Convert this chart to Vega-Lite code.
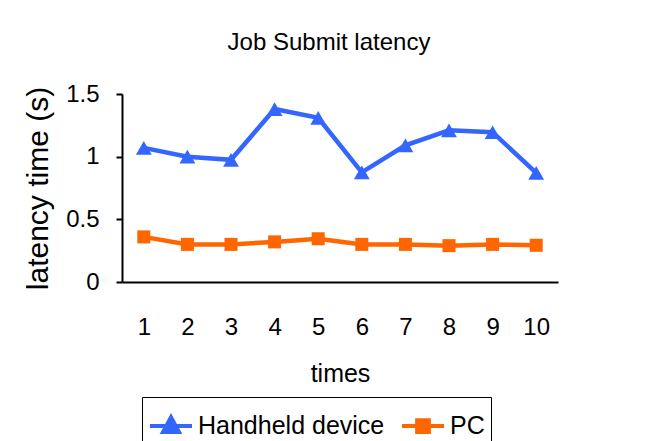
{
  "$schema": "https://vega.github.io/schema/vega-lite/v6.json",
  "width": 436,
  "height": 188,
  "autosize": "none",
  "padding": {"left": 122, "top": 94, "right": 87, "bottom": 159},
  "background": "white",
  "title": {
    "text": "Job Submit latency",
    "font": "Liberation Sans",
    "fontSize": 24,
    "fontWeight": "normal",
    "color": "black",
    "anchor": "middle",
    "baseline": "alphabetic",
    "dx": -11,
    "offset": 8
  },
  "data": {
    "values": [
      {"times": 1, "series": "Handheld device", "latency": 1.07},
      {"times": 2, "series": "Handheld device", "latency": 1.0},
      {"times": 3, "series": "Handheld device", "latency": 0.975},
      {"times": 4, "series": "Handheld device", "latency": 1.38},
      {"times": 5, "series": "Handheld device", "latency": 1.31},
      {"times": 6, "series": "Handheld device", "latency": 0.875},
      {"times": 7, "series": "Handheld device", "latency": 1.09},
      {"times": 8, "series": "Handheld device", "latency": 1.21},
      {"times": 9, "series": "Handheld device", "latency": 1.195},
      {"times": 10, "series": "Handheld device", "latency": 0.87},
      {"times": 1, "series": "PC", "latency": 0.36},
      {"times": 2, "series": "PC", "latency": 0.3},
      {"times": 3, "series": "PC", "latency": 0.3},
      {"times": 4, "series": "PC", "latency": 0.32},
      {"times": 5, "series": "PC", "latency": 0.345},
      {"times": 6, "series": "PC", "latency": 0.3},
      {"times": 7, "series": "PC", "latency": 0.3},
      {"times": 8, "series": "PC", "latency": 0.29},
      {"times": 9, "series": "PC", "latency": 0.3},
      {"times": 10, "series": "PC", "latency": 0.293}
    ]
  },
  "encoding": {
    "x": {
      "field": "times",
      "type": "ordinal",
      "scale": {"padding": 0.5},
      "axis": {
        "title": "times",
        "labelAngle": 0,
        "ticks": false,
        "labelPadding": 33,
        "titlePadding": 22
      }
    },
    "y": {
      "field": "latency",
      "type": "quantitative",
      "scale": {"domain": [0, 1.5], "nice": false, "zero": true},
      "axis": {
        "title": "latency time (s)",
        "values": [0, 0.5, 1, 1.5],
        "format": "~g",
        "grid": false,
        "ticks": true,
        "tickSize": 6,
        "labelPadding": 17,
        "titlePadding": 12,
        "titleFontSize": 30
      }
    },
    "color": {
      "field": "series",
      "type": "nominal",
      "scale": {"domain": ["Handheld device", "PC"], "range": ["#3366FF", "#FF6600"]},
      "legend": {
        "title": null,
        "orient": "none",
        "direction": "horizontal",
        "legendX": 20,
        "legendY": 303,
        "strokeColor": "black",
        "padding": 6,
        "labelFontSize": 25,
        "labelFont": "Liberation Sans",
        "labelColor": "black",
        "labelLimit": 400,
        "labelOffset": 4,
        "columnPadding": 9,
        "symbolSize": 1764,
        "symbolStrokeWidth": 4,
        "encode": {
          "symbols": {
            "update": {
              "shape": {"signal": "datum.value === 'PC' ? 'M-1,0H1M-0.28,-0.28H0.28V0.28H-0.28Z' : 'M-1,0H1M0,-0.42L0.38,0.28L-0.38,0.28Z'"},
              "fill": {"signal": "datum.value === 'PC' ? '#FF6600' : '#3366FF'"},
              "stroke": {"signal": "datum.value === 'PC' ? '#FF6600' : '#3366FF'"},
              "strokeWidth": {"value": 4},
              "size": {"value": 1764},
              "opacity": {"value": 1}
            }
          }
        }
      }
    }
  },
  "layer": [
    {"mark": {"type": "line", "strokeWidth": 4.5}},
    {
      "transform": [{"filter": "datum.series === 'Handheld device'"}],
      "mark": {"type": "point", "filled": true, "opacity": 1, "shape": "triangle-up", "size": 250}
    },
    {
      "transform": [{"filter": "datum.series === 'PC'"}],
      "mark": {"type": "point", "filled": true, "opacity": 1, "shape": "square", "size": 170}
    }
  ],
  "config": {
    "font": "Liberation Sans",
    "view": {"stroke": null},
    "axis": {
      "domainColor": "black",
      "domainWidth": 2,
      "tickColor": "black",
      "tickWidth": 2,
      "labelFont": "Liberation Sans",
      "labelFontSize": 24,
      "labelColor": "black",
      "titleFont": "Liberation Sans",
      "titleFontSize": 25,
      "titleFontWeight": "normal",
      "titleColor": "black"
    }
  }
}
